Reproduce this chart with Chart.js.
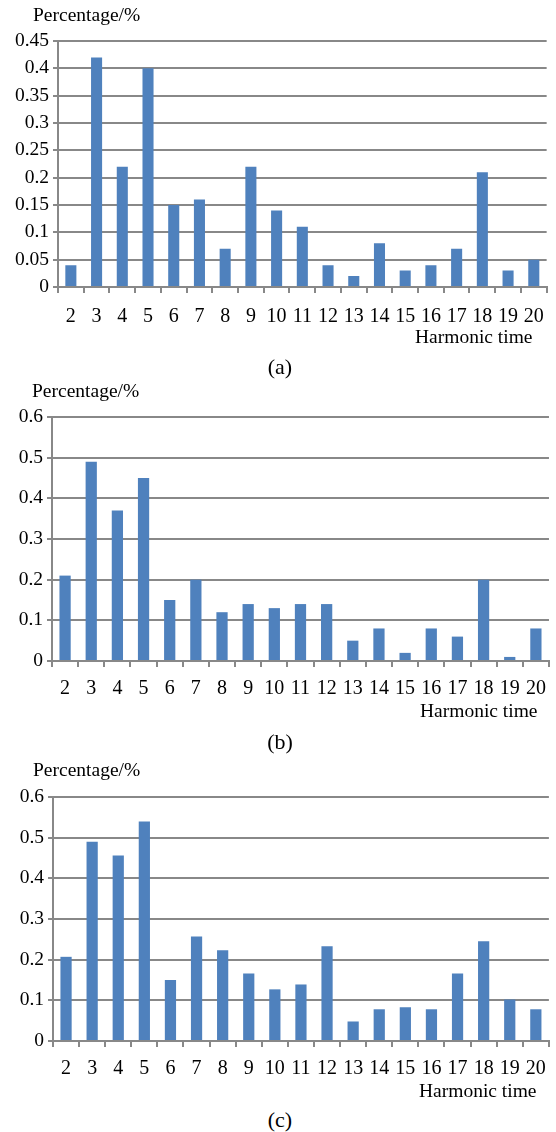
<!DOCTYPE html>
<html>
<head>
<meta charset="utf-8">
<script src="https://cdn.jsdelivr.net/npm/chart.js@4"></script>
<style>
body{margin:0;background:#fff;width:556px;height:1132px;position:relative;overflow:hidden;font-family:"Liberation Serif","Times New Roman",serif;}
.box{position:absolute;left:0;width:556px;}
.txt{position:absolute;font-size:19.5px;line-height:20px;white-space:nowrap;color:#000;}
.cap{position:absolute;left:240px;width:80px;text-align:center;font-size:22px;line-height:22px;color:#000;}
</style>
</head>
<body>
<div class="box" style="top:0;height:330px"><canvas id="charta" width="556" height="330"></canvas></div>
<div class="box" style="top:370px;height:334px"><canvas id="chartb" width="556" height="334"></canvas></div>
<div class="box" style="top:750px;height:334px"><canvas id="chartc" width="556" height="334"></canvas></div>

<div class="txt" style="left:33px;top:5px">Percentage/%</div>
<div class="txt" style="left:415px;top:327px">Harmonic time</div>
<div class="cap" style="top:356px">(a)</div>

<div class="txt" style="left:32px;top:381px">Percentage/%</div>
<div class="txt" style="left:420px;top:701px">Harmonic time</div>
<div class="cap" style="top:731px">(b)</div>

<div class="txt" style="left:33px;top:760px">Percentage/%</div>
<div class="txt" style="left:419px;top:1081px">Harmonic time</div>
<div class="cap" style="top:1109px">(c)</div>

<script>
'use strict'
let harmonics = ['2', '3', '4', '5', '6', '7', '8', '9', '10', '11', '12', '13', '14', '15', '16', '17', '18', '19', '20'];

// harmonic percentages for the three cases
let valuesa = [0.04, 0.42, 0.22, 0.40, 0.15, 0.16, 0.07, 0.22, 0.14, 0.11, 0.04, 0.02, 0.08, 0.03, 0.04, 0.07, 0.21, 0.03, 0.05];
let valuesb = [0.21, 0.49, 0.37, 0.45, 0.15, 0.20, 0.12, 0.14, 0.13, 0.14, 0.14, 0.05, 0.08, 0.02, 0.08, 0.06, 0.20, 0.01, 0.08];
let valuesc = [0.207, 0.49, 0.456, 0.54, 0.15, 0.257, 0.223, 0.166, 0.127, 0.139, 0.233, 0.048, 0.078, 0.083, 0.078, 0.166, 0.245, 0.102, 0.078];

let ymaxa = 0.45;
let stepa = 0.05;
let ymaxb = 0.6;
let stepb = 0.1;
let ymaxc = 0.6;
let stepc = 0.1;

let barcolor = '#4F81BD';
let gridcolor = '#888888';
let fontname = "'Liberation Serif', 'Times New Roman', serif";

function makechart(id, values, ymax, step, axisleft, padtop, padright, labelpad) {
    let ctx = document.getElementById(id).getContext('2d');
    return new Chart(ctx, {
        type: 'bar',
        data: {
            labels: harmonics,
            datasets: [{
                data: values,
                backgroundColor: barcolor,
                borderWidth: 0,
                barPercentage: 0.43,
                categoryPercentage: 1
            }]
        },
        options: {
            responsive: false,
            animation: false,
            layout: { padding: { top: padtop, right: padright, left: 0, bottom: 0 } },
            plugins: { legend: { display: false }, tooltip: { enabled: false } },
            scales: {
                x: {
                    grid: { offset: true, drawOnChartArea: false, color: gridcolor, lineWidth: 2, tickLength: 6 },
                    border: { color: gridcolor, width: 2 },
                    ticks: { color: '#000', font: { family: fontname, size: 20 }, padding: labelpad, maxRotation: 0, autoSkip: false },
                    afterFit: function (s) { s.height = 43; }
                },
                y: {
                    min: 0,
                    max: ymax,
                    grid: { color: gridcolor, lineWidth: 2, tickLength: 5 },
                    border: { color: gridcolor, width: 2 },
                    ticks: {
                        stepSize: step,
                        color: '#000',
                        font: { family: fontname, size: 19.5 },
                        padding: 4,
                        callback: function (v) { return String(+v.toFixed(2)); }
                    },
                    afterFit: function (s) { s.width = axisleft; }
                }
            }
        }
    });
}

makechart('charta', valuesa, ymaxa, stepa, 58, 41, 8, 12);
makechart('chartb', valuesb, ymaxb, stepb, 52, 47, 4, 10);
makechart('chartc', valuesc, ymaxc, stepc, 53, 47, 6, 10);
</script>
</body>
</html>
